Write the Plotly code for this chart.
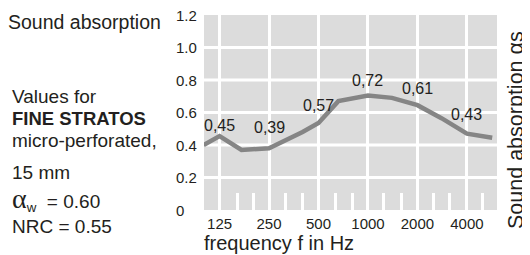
import math
import plotly.graph_objects as go

# ---- data ----
freq_hz = [100, 125, 170, 250, 400, 500, 660, 1000, 1400, 2000, 2800, 4000, 5700]
absorption = [0.40, 0.455, 0.37, 0.38, 0.48, 0.535, 0.67, 0.705, 0.69, 0.645, 0.565, 0.47, 0.445]

octave_hz = [125, 250, 500, 1000, 2000, 4000]
octave_tick_text = ["125", "250", "500", "1000", "2000", "4000"]
octave_value_text = ["0,45", "0,39", "0,57", "0,72", "0,61", "0,43"]
octave_label_y = [0.52, 0.51, 0.645, 0.80, 0.75, 0.585]

third_octave_hz = [160, 200, 315, 400, 630, 800, 1250, 1600, 2500, 3150, 5000]

y_ticks = [0, 0.2, 0.4, 0.6, 0.8, 1.0, 1.2]
y_tick_text = ["0", "0.2", "0.4", "0.6", "0.8", "1.0", "1.2"]
y_grid = [0.2, 0.4, 0.6, 0.8, 1.0]

left_lines = [
    "Values for",
    "<b>FINE STRATOS</b>",
    "micro-perforated,",
    "15 mm",
]

# ---- styling ----
FONT = "Liberation Sans, Arial, sans-serif"
TXT = "#231f20"
BG = "#dcdcdc"
LINE = "#858585"

OFF = 8                      # page body margin
W, H = 530 - OFF, 255 - OFF
# plot area in window pixels: x 204..497, y 15..210
L, R = 204 - OFF, 530 - 497
T, B = 15 - OFF, 255 - 210
PH = H - T - B


def py(ypx):
    """window pixel y -> paper y"""
    return (210 - ypx) / PH


def px(xpx):
    """window pixel x -> xshift from paper x=0"""
    return xpx - 204


fig = go.Figure()
fig.add_trace(go.Scatter(
    x=freq_hz, y=absorption, mode="lines",
    line=dict(color=LINE, width=4.5), hoverinfo="skip", showlegend=False,
))

shapes = []
for g in y_grid:
    shapes.append(dict(type="line", xref="paper", yref="y", x0=0, x1=1, y0=g, y1=g,
                       line=dict(color="white", width=3), layer="below"))

annotations = []
for f, t, ly in zip(octave_hz, octave_value_text, octave_label_y):
    annotations.append(dict(x=math.log10(f), y=ly, xref="x", yref="y", text=t,
                            showarrow=False, font=dict(family=FONT, size=16, color=TXT),
                            xanchor="center", yanchor="middle"))
for v, t in zip(y_ticks, y_tick_text):
    annotations.append(dict(x=0, xshift=px(174), y=v, xref="paper", yref="y", text=t,
                            showarrow=False, font=dict(family=FONT, size=15, color=TXT),
                            xanchor="left", yanchor="middle"))

annotations.append(dict(x=0, xshift=px(6), y=py(22), xref="paper", yref="paper",
                        text="Sound absorption", showarrow=False,
                        font=dict(family=FONT, size=19.5, color=TXT),
                        xanchor="left", yanchor="middle"))
annotations.append(dict(x=0, xshift=px(202), y=py(243), xref="paper", yref="paper",
                        text="frequency f in Hz", showarrow=False,
                        font=dict(family=FONT, size=20, color=TXT),
                        xanchor="left", yanchor="middle"))
annotations.append(dict(x=1, xshift=19, y=py(130), xref="paper", yref="paper",
                        text="Sound absorption \u03b1s", showarrow=False, textangle=-90,
                        font=dict(family=FONT, size=21.5, color=TXT),
                        xanchor="center", yanchor="middle"))

left_y = [96, 118, 140, 172]
for t, ypx in zip(left_lines, left_y):
    fnt = dict(family=FONT, size=19, color=TXT)
    if "FINE" in t:
        fnt = dict(family=FONT, size=18.5, color=TXT)
    annotations.append(dict(x=0, xshift=px(10), y=py(ypx), xref="paper", yref="paper",
                            text=t, showarrow=False, font=fnt,
                            xanchor="left", yanchor="middle"))
annotations.append(dict(x=0, xshift=px(10), y=py(199), xref="paper", yref="paper",
                        text="<span style=\"font-family:'Liberation Serif';font-size:28px\">\u03b1</span>"
                             "<sub>w</sub>&nbsp;&nbsp;= 0.60",
                        showarrow=False, font=dict(family=FONT, size=19, color=TXT),
                        xanchor="left", yanchor="middle"))
annotations.append(dict(x=0, xshift=px(10), y=py(226), xref="paper", yref="paper",
                        text="NRC = 0.55", showarrow=False,
                        font=dict(family=FONT, size=19, color=TXT),
                        xanchor="left", yanchor="middle"))

fig.update_layout(
    width=W, height=H,
    margin=dict(l=L, r=R, t=T, b=B, pad=0),
    paper_bgcolor="white", plot_bgcolor=BG,
    shapes=shapes, annotations=annotations,
    showlegend=False,
    xaxis=dict(
        type="log", range=[math.log10(100.5), math.log10(6096)],
        tickmode="array", tickvals=octave_hz, ticktext=octave_tick_text,
        showgrid=True, gridcolor="white", gridwidth=3,
        ticks="inside", ticklen=17, tickwidth=3, tickcolor="white",
        ticklabelstandoff=3,
        minor=dict(tickmode="array", tickvals=third_octave_hz, ticks="inside",
                   ticklen=17, tickwidth=3, tickcolor="white", showgrid=False),
        tickfont=dict(family=FONT, size=15, color=TXT),
        showline=False, zeroline=False, fixedrange=True,
    ),
    yaxis=dict(
        range=[0, 1.2], showgrid=False, showticklabels=False, ticks="",
        zeroline=False, showline=False, fixedrange=True,
    ),
)

fig.write_html("out.html")
